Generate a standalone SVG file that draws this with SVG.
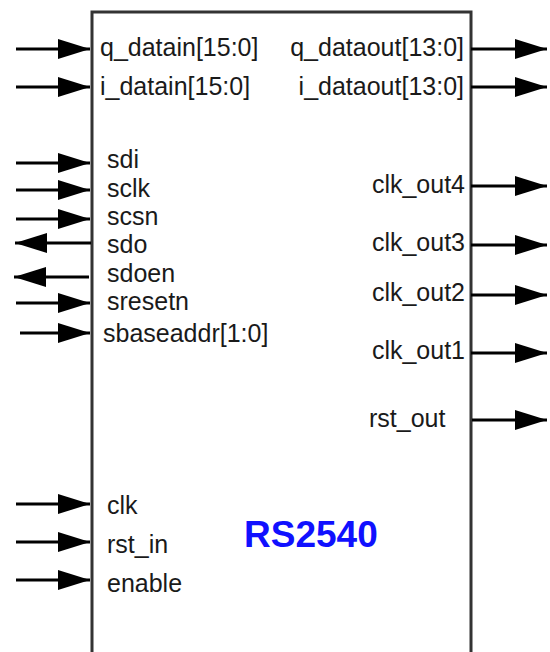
<svg xmlns="http://www.w3.org/2000/svg" width="550" height="652" viewBox="0 0 550 652">
<style>
.lbl{font-family:"Liberation Sans",Arial,sans-serif;font-size:25px;fill:#1a1a1a}
.r{text-anchor:end}
.w{stroke:#000;stroke-width:3;fill:none;marker-end:url(#ah)}
.title{font-family:"Liberation Sans",Arial,sans-serif;font-size:37px;font-weight:bold;fill:#1010ff}
</style>
<defs>
<marker id="ah" markerUnits="userSpaceOnUse" markerWidth="34" markerHeight="20" refX="32" refY="10" orient="auto" viewBox="0 0 34 20">
<path d="M0,0 L32,10 L0,20 z" fill="#000"/>
</marker>
</defs>
<rect width="550" height="652" fill="#fff"/>
<g id="rs2540">
<path d="M92,660 V12 H471 V660" fill="none" stroke="#333" stroke-width="3"/>
<text class="title" x="244" y="547">RS2540</text>
<text class="lbl" x="100" y="56">q_datain[15:0]</text>
<text class="lbl" x="100" y="95">i_datain[15:0]</text>
<text class="lbl" x="107" y="168">sdi</text>
<text class="lbl" x="107" y="197">sclk</text>
<text class="lbl" x="107" y="225">scsn</text>
<text class="lbl" x="107" y="253">sdo</text>
<text class="lbl" x="107" y="282">sdoen</text>
<text class="lbl" x="107" y="310">sresetn</text>
<text class="lbl" x="103" y="342">sbaseaddr[1:0]</text>
<text class="lbl" x="107" y="514">clk</text>
<text class="lbl" x="107" y="553">rst_in</text>
<text class="lbl" x="107" y="592">enable</text>
<text class="lbl r" x="464" y="56">q_dataout[13:0]</text>
<text class="lbl r" x="464" y="95">i_dataout[13:0]</text>
<text class="lbl r" x="465" y="193">clk_out4</text>
<text class="lbl r" x="465" y="251">clk_out3</text>
<text class="lbl r" x="465" y="301">clk_out2</text>
<text class="lbl r" x="465" y="359">clk_out1</text>
<text class="lbl" x="369" y="427">rst_out</text>
</g>
<g id="connectors">
<line class="w" x1="16" y1="49" x2="90" y2="49"/>
<line class="w" x1="16" y1="87" x2="90" y2="87"/>
<line class="w" x1="16" y1="163" x2="90" y2="163"/>
<line class="w" x1="16" y1="190" x2="90" y2="190"/>
<line class="w" x1="16" y1="219" x2="90" y2="219"/>
<line class="w" x1="91" y1="243" x2="15" y2="243"/>
<line class="w" x1="89" y1="277" x2="14" y2="277"/>
<line class="w" x1="16" y1="303" x2="90" y2="303"/>
<line class="w" x1="20" y1="333" x2="90" y2="333"/>
<line class="w" x1="16" y1="504" x2="90" y2="504"/>
<line class="w" x1="16" y1="542" x2="90" y2="542"/>
<line class="w" x1="16" y1="580" x2="90" y2="580"/>
<line class="w" x1="471" y1="49" x2="547" y2="49"/>
<line class="w" x1="471" y1="87" x2="547" y2="87"/>
<line class="w" x1="471" y1="186" x2="547" y2="186"/>
<line class="w" x1="471" y1="245" x2="547" y2="245"/>
<line class="w" x1="471" y1="295" x2="547" y2="295"/>
<line class="w" x1="471" y1="353" x2="547" y2="353"/>
<line class="w" x1="472" y1="420" x2="547" y2="420"/>
</g>
</svg>
